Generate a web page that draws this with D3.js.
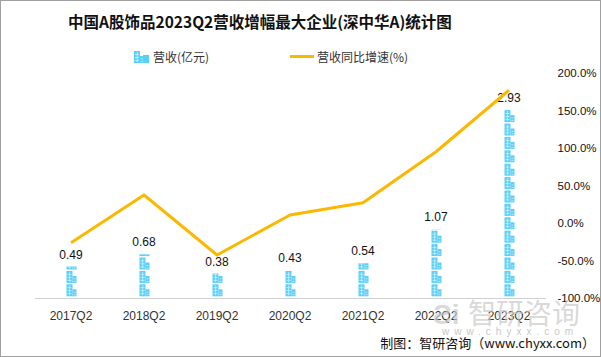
<!DOCTYPE html>
<html><head><meta charset="utf-8">
<script src="https://cdn.jsdelivr.net/npm/d3@7/dist/d3.min.js"></script>
<style>body{margin:0;background:#fff}svg{display:block}</style>
</head><body>
<script>
const categories = ["2017Q2","2018Q2","2019Q2","2020Q2","2021Q2","2022Q2","2023Q2"];
const revenue = [0.49,0.68,0.38,0.43,0.54,1.07,2.93];
const growth = [-26.3,37.3,-42.7,10.7,27.0,95.0,177.0];
const rightTicks = [-100,-50,0,50,100,150,200];
const title = "中国A股饰品2023Q2营收增幅最大企业(深中华A)统计图";
const legendNames = ["营收(亿元)","营收同比增速(%)"];
const source = "制图：智研咨询（www.chyxx.com）";

(function(){
const W=601,H=357;
const svg=d3.select("body").append("svg").attr("width",W).attr("height",H);
svg.append("rect").attr("x",0.5).attr("y",0.5).attr("width",W-1).attr("height",H-1).attr("fill","#fff").attr("stroke","#a0a0a0");

const pTop=73,pBottom=298,pLeft=34.5,pRight=545.5;
const x=d3.scaleBand().domain(categories).range([pLeft,pRight]);
const yL=d3.scaleLinear().domain([0,3.5]).range([pBottom,pTop]);
const yR=d3.scaleLinear().domain([-100,200]).range([pBottom,pTop]);

svg.append("text").attr("x",260).attr("y",28).attr("text-anchor","middle")
 .attr("font-family","'Noto Sans CJK SC',sans-serif").attr("font-weight","bold").attr("font-size",15.5).attr("fill","#111").text(title);

const defs=svg.append("defs");
const icW=10,icH=12,period=13.4;
const sym=defs.append("g").attr("id","bld");
sym.append("rect").attr("x",0).attr("y",0).attr("width",6).attr("height",icH).attr("fill","#5ccff7");
sym.append("rect").attr("x",6).attr("y",5).attr("width",4).attr("height",icH-5).attr("fill","#5ccff7");
[3,6,9].forEach(yy=>sym.append("rect").attr("x",1).attr("y",yy).attr("width",4).attr("height",0.8).attr("fill","#c8f0ff"));
sym.append("rect").attr("x",2.8).attr("y",1).attr("width",0.8).attr("height",10).attr("fill","#c8f0ff");
[7.5,10].forEach(yy=>sym.append("rect").attr("x",7).attr("y",yy).attr("width",2).attr("height",0.8).attr("fill","#c8f0ff"));

const xAxis=d3.axisBottom(x).tickSize(0).tickPadding(13);
const gx=svg.append("g").attr("transform",`translate(0,${pBottom})`).call(xAxis);
gx.select(".domain").attr("stroke","#d0d0d0").attr("stroke-width",1.2);
gx.selectAll("text").attr("font-family","'Liberation Sans',Arial,sans-serif").attr("font-size",12).attr("fill","#333");

const yAxis=d3.axisRight(yR).tickValues(rightTicks).tickSize(0).tickPadding(12).tickFormat(d=>d.toFixed(1)+"%");
const gy=svg.append("g").attr("transform",`translate(${pRight},0)`).call(yAxis);
gy.select(".domain").remove();
gy.selectAll("text").attr("font-family","'Liberation Sans',Arial,sans-serif").attr("font-size",11.5).attr("fill","#111");

revenue.forEach((v,i)=>{
  const cx=x(categories[i])+x.bandwidth()/2;
  const h=pBottom-yL(v);
  const cid="clip"+i;
  defs.append("clipPath").attr("id",cid).append("rect").attr("x",cx-icW/2-1).attr("y",yL(v)).attr("width",icW+2).attr("height",h);
  const g=svg.append("g").attr("clip-path",`url(#${cid})`);
  const n=Math.ceil(h/period);
  for(let k=0;k<n;k++){
    g.append("use").attr("href","#bld").attr("x",cx-icW/2+0.5).attr("y",pBottom-1-(k+1)*period+(period-icH)/2);
  }
  svg.append("text").attr("x",cx).attr("y",yL(v)-8).attr("text-anchor","middle")
   .attr("font-family","'Liberation Sans',Arial,sans-serif").attr("font-size",12).attr("fill","#111").text(v.toFixed(2));
});

const line=d3.line().x((d,i)=>x(categories[i])+x.bandwidth()/2).y(d=>yR(d));
svg.append("path").datum(growth).attr("d",line).attr("fill","none").attr("stroke","#fbb800").attr("stroke-width",3).attr("stroke-linejoin","round");

svg.append("use").attr("href","#bld").attr("x",134).attr("y",51);
svg.append("rect").attr("x",143).attr("y",55).attr("width",6).attr("height",8).attr("fill","#5ccff7");
svg.append("text").attr("x",153).attr("y",62).attr("font-family","'Noto Sans CJK SC',sans-serif").attr("font-size",12).attr("fill","#333").text(legendNames[0]);
svg.append("rect").attr("x",290).attr("y",55).attr("width",24).attr("height",3).attr("fill","#fbb800");
svg.append("text").attr("x",317).attr("y",62).attr("font-family","'Noto Sans CJK SC',sans-serif").attr("font-size",12).attr("fill","#333").text(legendNames[1]);

svg.append("text").attr("x",468).attr("y",324).attr("font-family","'Noto Sans CJK SC',sans-serif").attr("font-size",28).attr("fill","#c8c8c8").attr("fill-opacity",0.7).text("智研咨询");
svg.append("text").attr("x",433).attr("y",324).attr("font-family","'Liberation Sans',sans-serif").attr("font-weight","bold").attr("font-size",28).attr("fill","#c8c8c8").attr("fill-opacity",0.7).text("Ƨi");
svg.append("text").attr("x",510).attr("y",335).attr("text-anchor","middle").attr("font-family","'Liberation Sans',sans-serif").attr("font-size",10).attr("letter-spacing",5).attr("fill","#c8c8c8").text("www.chyxx.com");

svg.append("text").attr("x",595).attr("y",348).attr("text-anchor","end").attr("font-family","'Noto Sans CJK SC',serif").attr("font-size",13).attr("fill","#111").text(source);
})();
</script>
</body></html>
